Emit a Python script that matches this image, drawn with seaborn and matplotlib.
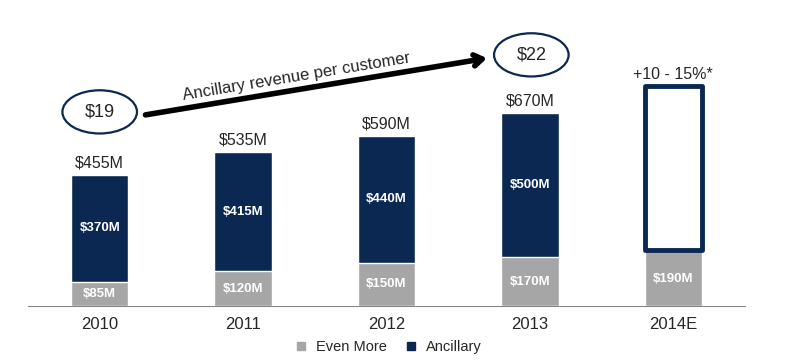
import seaborn as sns
import matplotlib.pyplot as plt
import pandas as pd
from matplotlib.patches import Ellipse
from matplotlib.lines import Line2D

years = ['2010', '2011', '2012', '2013', '2014E']
even_more = [85, 120, 150, 170, 190]
ancillary = [370, 415, 440, 500, 575]   # 2014E ancillary is an estimate (outlined box)
total_labels = ['$455M', '$535M', '$590M', '$670M', '+10 - 15%*']
per_customer = ['$19', '$22']

navy = '#0b2853'
gray = '#a6a6a6'

df = pd.DataFrame({'year': years, 'even_more': even_more, 'ancillary': ancillary})
df['total'] = df['even_more'] + df['ancillary']

sns.set_style('white')
plt.rcParams['font.family'] = ['Liberation Sans', 'DejaVu Sans']

fig = plt.figure(figsize=(8, 3.64), dpi=100)
ax = fig.add_axes([28 / 800, 58 / 364, 717 / 800, 288 / 364])

# total bars (ancillary colour) then even-more on top
sns.barplot(data=df, x='year', y='total', color=navy, width=0.4, saturation=1, ax=ax)
sns.barplot(data=df, x='year', y='even_more', color=gray, width=0.4, saturation=1, ax=ax)

# last ancillary bar is an outlined projection sitting on the gray part
n = len(years)
est = ax.patches[n - 1]
est.set_y(df['even_more'].iloc[-1] + 4)
est.set_height(df['ancillary'].iloc[-1] - 4)
est.set_facecolor('white')
est.set_edgecolor(navy)
est.set_linewidth(3.5)
est.set_joinstyle('round')
est.set_zorder(3)

for i, row in df.iterrows():
    ax.text(i, row['even_more'] / 2, f"${row['even_more']}M", ha='center', va='center',
            color='white', fontsize=9.5, fontweight='bold')
    if i < n - 1:
        ax.text(i, row['even_more'] + row['ancillary'] / 2, f"${row['ancillary']}M",
                ha='center', va='center', color='white', fontsize=9.5, fontweight='bold')
    ax.annotate(total_labels[i], (i, row['total']), xytext=(0, 3), textcoords='offset points',
                ha='center', va='bottom', fontsize=11.5)

# ancillary revenue per customer annotation
for (cx, cy), lab in zip([(0.0, 674), (3.01, 872)], per_customer):
    ax.add_patch(Ellipse((cx, cy), 0.52, 150, facecolor='white', edgecolor=navy,
                         linewidth=1.6, clip_on=False))
    ax.text(cx, cy, lab, ha='center', va='center', fontsize=13)
ax.annotate('', xy=(2.72, 862), xytext=(0.30, 662),
            arrowprops=dict(arrowstyle='->,head_length=0.6,head_width=0.4', lw=4, color='black'))
ax.text(1.37, 795, 'Ancillary revenue per customer', ha='center', va='center',
        rotation=9.4, fontsize=12)

ax.set_ylim(0, 1000)
ax.set_xlim(-0.5, n - 0.5)
ax.set_ylabel('')
ax.set_xlabel('')
ax.set_yticks([])
ax.set_xticks(range(n))
ax.set_xticklabels(years, fontsize=12)
ax.tick_params(axis='x', length=0, pad=8)
ax.set_xticks([i - 0.5 for i in range(n + 1)], minor=True)
ax.tick_params(axis='x', which='minor', length=6, color='#888888', direction='out')
for s in ['left', 'top', 'right']:
    ax.spines[s].set_visible(False)
ax.spines['bottom'].set_color('#888888')

handles = [Line2D([], [], marker='s', linestyle='', color=gray, markersize=5.5),
           Line2D([], [], marker='s', linestyle='', color=navy, markersize=5.5)]
fig.legend(handles, ['Even More', 'Ancillary'], loc='center', bbox_to_anchor=(0.48, 0.047),
           ncol=2, frameon=False, fontsize=10.5, handletextpad=0.05, columnspacing=0.6)

fig.savefig('out.png', dpi=100)
